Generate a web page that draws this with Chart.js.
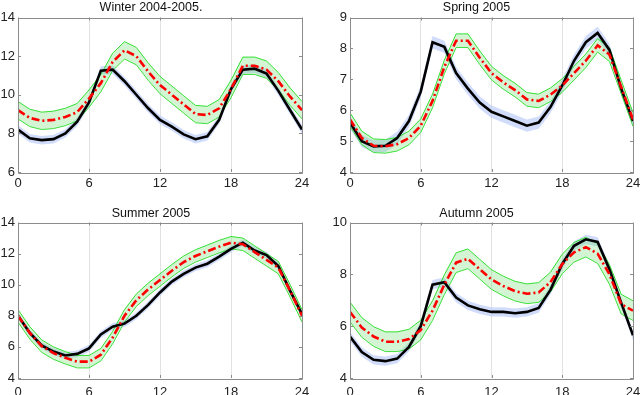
<!DOCTYPE html>
<html>
<head>
<meta charset="utf-8">
<script src="https://cdn.jsdelivr.net/npm/chart.js@4"></script>
<style>
  body { margin: 0; background: #fff; }
  #wrap { position: relative; width: 640px; height: 395px; overflow: hidden; }
  .cell { position: absolute; height: 197px; }
</style>
</head>
<body>
<div id="wrap">
  <div class="cell" style="left:0;top:0"><canvas id="c0" width="320" height="197"></canvas></div>
  <div class="cell" style="left:320px;top:0"><canvas id="c1" width="340" height="197"></canvas></div>
  <div class="cell" style="left:0;top:198px"><canvas id="c2" width="320" height="197"></canvas></div>
  <div class="cell" style="left:320px;top:198px"><canvas id="c3" width="340" height="197"></canvas></div>
</div>
<script>
const hours = [0,1,2,3,4,5,6,7,8,9,10,11,12,13,14,15,16,17,18,19,20,21,22,23,24];
const xTicks = [0, 6, 12, 18, 24];

const titles = ['Winter 2004-2005.', 'Spring 2005', 'Summer 2005', 'Autumn 2005'];

// measured (black) series
const winterMeasured = [8.2,7.75,7.65,7.7,8.0,8.6,9.6,11.25,11.3,10.7,10.0,9.3,8.7,8.35,7.95,7.7,7.85,8.7,10.3,11.3,11.35,11.1,10.2,9.2,8.2];
const springMeasured = [5.6,5.0,4.83,4.85,5.1,5.65,6.6,8.2,8.05,7.2,6.7,6.25,5.95,5.8,5.65,5.5,5.6,6.1,6.8,7.6,8.2,8.5,7.95,6.7,5.65];
const summerMeasured = [8.0,6.9,6.1,5.7,5.45,5.55,5.9,6.8,7.3,7.5,8.0,8.7,9.5,10.2,10.7,11.1,11.35,11.8,12.3,12.7,12.2,11.9,11.2,9.6,8.1];
const autumnMeasured = [5.6,5.0,4.7,4.65,4.75,5.2,6.0,7.6,7.7,7.1,6.8,6.65,6.55,6.55,6.5,6.55,6.7,7.4,8.4,9.1,9.35,9.25,8.2,6.9,5.65];

// forecast (red dash-dot) series
const winterForecast = [9.2,8.8,8.65,8.7,8.85,9.1,9.8,10.6,11.7,12.3,12.0,11.2,10.5,10.0,9.5,9.0,8.95,9.3,10.3,11.5,11.5,11.3,10.7,9.9,9.2];
const springForecast = [5.7,5.1,4.85,4.83,4.9,5.1,5.5,6.3,7.4,8.25,8.25,7.7,7.2,6.9,6.65,6.35,6.3,6.5,6.8,7.2,7.6,8.1,7.8,6.75,5.7];
const summerForecast = [8.0,6.9,6.05,5.6,5.3,5.05,5.05,5.5,6.6,8.0,9.0,9.7,10.3,10.9,11.45,11.85,12.15,12.45,12.7,12.6,12.1,11.6,11.1,9.6,8.0];
const autumnForecast = [6.55,5.95,5.6,5.4,5.4,5.5,5.85,6.6,7.6,8.45,8.6,8.2,7.8,7.55,7.35,7.25,7.3,7.7,8.4,8.85,9.05,8.8,8.0,6.85,6.6];

// half widths of the shaded bands
const measuredSpread = [0.22, 0.2, 0.22, 0.18];
const forecastSpread = [0.45, 0.22, 0.4, 0.38];

const yMin = [6, 4, 4, 4];
const yMax = [14, 9, 14, 10];
const yStep = [2, 1, 2, 2];

const measured = [winterMeasured, springMeasured, summerMeasured, autumnMeasured];
const forecast = [winterForecast, springForecast, summerForecast, autumnForecast];

const FONT = "'Liberation Sans', Arial, Helvetica, sans-serif";
const AXIS = '#8c8c8c';

// box around plot + inward ticks, matlab style
const boxPlugin = {
  id: 'box',
  afterDraw(chart) {
    const { ctx, chartArea: a, scales } = chart;
    ctx.save();
    ctx.strokeStyle = AXIS;
    ctx.lineWidth = 1;
    ctx.beginPath();
    ctx.rect(Math.round(a.left) + 0.5, Math.round(a.top) + 0.5,
             Math.round(a.right - a.left), Math.round(a.bottom - a.top));
    ctx.stroke();
    ctx.beginPath();
    scales.x.ticks.forEach(t => {
      const px = Math.round(scales.x.getPixelForValue(t.value)) + 0.5;
      ctx.moveTo(px, a.bottom); ctx.lineTo(px, a.bottom - 3);
      ctx.moveTo(px, a.top); ctx.lineTo(px, a.top + 3);
    });
    scales.y.ticks.forEach(t => {
      const py = Math.round(scales.y.getPixelForValue(t.value)) + 0.5;
      ctx.moveTo(a.left, py); ctx.lineTo(a.left + 3, py);
      ctx.moveTo(a.right, py); ctx.lineTo(a.right - 3, py);
    });
    ctx.stroke();
    ctx.restore();
  }
};

function makeChart(i) {
  const m = measured[i];
  const f = forecast[i];
  const left = i % 2 === 0;
  const top = i < 2;

  new Chart(document.getElementById('c' + i), {
    type: 'line',
    data: {
      labels: hours,
      datasets: [
        { data: m.map(v => v + measuredSpread[i]), borderWidth: 0, borderColor: 'rgba(0,0,0,0)',
          backgroundColor: 'rgba(190,205,250,0.7)', fill: '+1', order: 10 },
        { data: m.map(v => v - measuredSpread[i]), borderWidth: 0, borderColor: 'rgba(0,0,0,0)',
          fill: false, order: 10 },
        { data: f.map(v => v + forecastSpread[i]), borderWidth: 1, borderColor: '#33e033',
          backgroundColor: 'rgba(120,225,120,0.33)', fill: '+1', order: 8 },
        { data: f.map(v => v - forecastSpread[i]), borderWidth: 1, borderColor: '#33e033',
          fill: false, order: 8 },
        { data: m, borderColor: '#000', borderWidth: 2.6, fill: false, order: 2 },
        { data: f, borderColor: '#ff0000', borderWidth: 2.6, borderDash: [8, 3, 2, 3], fill: false, order: 1 }
      ]
    },
    options: {
      responsive: false,
      animation: false,
      events: [],
      elements: { point: { radius: 0 }, line: { tension: 0 } },
      layout: { padding: { left: 0, right: left ? 18 : 27, top: 0, bottom: 0 } },
      plugins: {
        legend: { display: false },
        tooltip: { enabled: false },
        title: {
          display: true,
          text: titles[i],
          color: '#111',
          font: { family: FONT, size: 12.5, weight: 'normal' },
          padding: { top: top ? 0 : 8, bottom: top ? 2.5 : 1.5 }
        }
      },
      scales: {
        x: {
          type: 'linear',
          min: 0, max: 24,
          afterBuildTicks: s => { s.ticks = xTicks.map(v => ({ value: v })); },
          afterFit: s => { s.height = top ? 25 : 17; },
          ticks: { color: '#222', font: { family: FONT, size: 13 }, padding: top ? 4 : 7, maxRotation: 0 },
          grid: {
            drawTicks: false,
            color: c => (c.tick && c.tick.value > 0 && c.tick.value < 24) ? '#e2e2e2' : 'rgba(0,0,0,0)'
          },
          border: { display: false }
        },
        y: {
          min: yMin[i], max: yMax[i],
          afterFit: s => { s.width = left ? 18 : 30; },
          ticks: { stepSize: yStep[i], color: '#222', font: { family: FONT, size: 13 }, padding: 3 },
          grid: { display: false, drawTicks: false },
          border: { display: false }
        }
      }
    },
    plugins: [boxPlugin]
  });
}

for (let i = 0; i < 4; i++) makeChart(i);
</script>
</body>
</html>
